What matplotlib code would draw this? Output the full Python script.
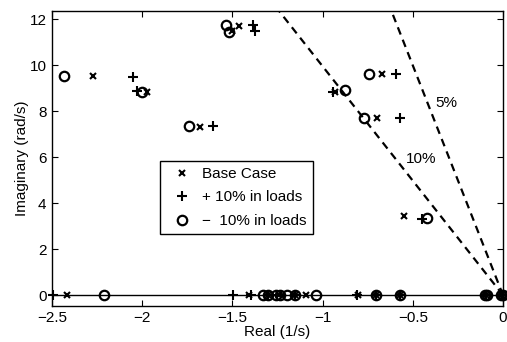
import numpy as np
import matplotlib
matplotlib.use("Agg")
import matplotlib.pyplot as plt

plt.rcParams['font.family'] = ['Liberation Sans', 'DejaVu Sans']

# eigenvalues: (real, imaginary)
base_re = [-2.271, -1.972, -1.680, -1.500, -1.463, -0.933, -0.669, -0.697, -0.549,
           -2.415, -1.410, -1.300, -1.240, -1.155, -1.094, -0.804, -0.702, -0.569,
           -0.093, -0.007]
base_im = [9.54, 8.85, 7.33, 11.47, 11.72, 8.83, 9.61, 7.68, 3.43,
           0, 0, 0, 0, 0, 0, 0, 0, 0, 0, 0]

plus_re = [-2.050, -2.028, -1.609, -1.385, -1.376, -0.940, -0.591, -0.569, -0.447,
           -2.496, -1.496, -1.395, -1.300, -1.255, -1.155, -0.810, -0.702, -0.569,
           -0.093, -0.007]
plus_im = [9.50, 8.87, 7.35, 11.74, 11.50, 8.83, 9.61, 7.68, 3.33,
           0, 0, 0, 0, 0, 0, 0, 0, 0, 0, 0]

minus_re = [-2.434, -2.003, -1.741, -1.533, -1.520, -0.876, -0.745, -0.771, -0.422,
            -2.212, -1.330, -1.300, -1.256, -1.238, -1.200, -1.155, -1.038, -0.702,
            -0.569, -0.098, -0.088, -0.012, -0.002]
minus_im = [9.54, 8.83, 7.36, 11.74, 11.42, 8.90, 9.61, 7.68, 3.36,
            0, 0, 0, 0, 0, 0, 0, 0, 0, 0, 0, 0, 0, 0]

damping = [0.05, 0.10]
damping_labels = ["5%", "10%"]
label_pos = [(-0.375, 8.35), (-0.54, 5.94)]

fig = plt.figure(figsize=(5.07, 3.42), dpi=100)
ax = fig.add_axes([0.1026, 0.106, 0.8895, 0.863])

ax.axhline(0, color='black', linewidth=1.0, zorder=1)

# constant damping ratio lines through the origin
ymax = 12.4
for z in damping:
    slope = np.sqrt(1 - z**2) / z
    ax.plot([0, -ymax / slope], [0, ymax], color='black', linestyle=(0, (3.5, 2.5)),
            linewidth=1.6, zorder=2)
for txt, (tx, ty) in zip(damping_labels, label_pos):
    ax.text(tx, ty, txt, fontsize=11, ha='left', va='center')

ax.plot(base_re, base_im, 'x', color='black', markersize=4.5, mew=1.5,
        linestyle='none', label='Base Case', clip_on=False, zorder=3)
ax.plot(plus_re, plus_im, '+', color='black', markersize=6.5, mew=1.5,
        linestyle='none', label='+ 10% in loads', clip_on=False, zorder=3)
ax.plot(minus_re, minus_im, 'o', color='black', markersize=6.8, mew=1.6,
        markerfacecolor='none', linestyle='none', label='\u2212  10% in loads',
        clip_on=False, zorder=3)

ax.set_xlim(-2.5, 0)
ax.set_ylim(-0.46, 12.37)
ax.set_xticks([-2.5, -2, -1.5, -1, -0.5, 0])
ax.set_xticklabels(['\u22122.5', '\u22122', '\u22121.5', '\u22121', '\u22120.5', '0'])
ax.set_yticks([0, 2, 4, 6, 8, 10, 12])
ax.tick_params(direction='in', length=4, top=True, right=True, labelsize=11, pad=4)
for s in ax.spines.values():
    s.set_linewidth(1.0)

ax.set_xlabel('Real (1/s)', fontsize=11, labelpad=0)
ax.set_ylabel('Imaginary (rad/s)', fontsize=11, labelpad=0)

leg = ax.legend(loc='upper left', bbox_to_anchor=(0.2395, 0.49), fontsize=11,
                frameon=True, fancybox=False, edgecolor='black', framealpha=1,
                handlelength=2.1, handletextpad=0.3, borderpad=0.38,
                labelspacing=0.62, borderaxespad=0)
leg.get_frame().set_linewidth(1.0)

fig.savefig('out.png', dpi=100)
